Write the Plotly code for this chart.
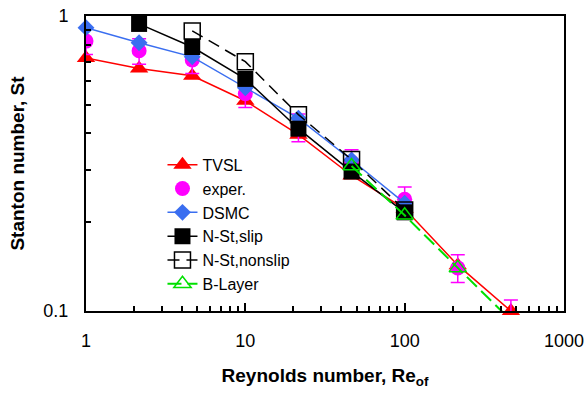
import plotly.graph_objects as go

# Reynolds numbers (x) for each series
re_all = [1, 2.154, 4.642, 10, 21.54, 46.42, 100, 215.4, 464.2]

tvsl_x = re_all
tvsl_y = [0.72, 0.664, 0.627, 0.516, 0.396, 0.288, 0.222, 0.143, 0.1]

exper_x = re_all
exper_y = [0.822, 0.762, 0.71, 0.545, 0.42, 0.32, 0.239, 0.14, 0.094]
exper_err = [0.082, 0.076, 0.071, 0.055, 0.045, 0.032, 0.024, 0.015, 0.015]

dsmc_x = [1, 2.154, 4.642, 10, 21.54, 46.42, 100]
dsmc_y = [0.913, 0.812, 0.727, 0.571, 0.45, 0.325, 0.232]

slip_x = [2.154, 4.642, 10, 21.54, 46.42, 100]
slip_y = [0.94, 0.785, 0.612, 0.415, 0.297, 0.216]

nonslip_x = [4.642, 10, 21.54, 46.42, 100]
nonslip_y = [0.89, 0.70, 0.463, 0.326, 0.22]

blayer_x = [46.42, 100, 215.4, 464.2]
blayer_y = [0.31, 0.211, 0.14, 0.093]

x_ticks = [1, 10, 100, 1000]
x_ticktext = ["1", "10", "100", "1000"]
x_minor = [2, 3, 4, 5, 6, 7, 8, 9, 20, 30, 40, 50, 60, 70, 80, 90,
           200, 300, 400, 500, 600, 700, 800, 900]
y_ticks = [0.1, 1]
y_ticktext = ["0.1", "1"]
y_minor = [0.2, 0.3, 0.4, 0.5, 0.6, 0.7, 0.8, 0.9]

FONT = "Liberation Sans, Arial, sans-serif"

fig = go.Figure()

fig.add_trace(go.Scatter(
    x=tvsl_x, y=tvsl_y, name="TVSL", mode="lines+markers", legendrank=1,
    line=dict(color="#FF0000", width=1.5),
    marker=dict(symbol="triangle-up", size=16, color="#FF0000"),
    cliponaxis=False))

fig.add_trace(go.Scatter(
    x=exper_x, y=exper_y, name="exper.", mode="markers", legendrank=2,
    marker=dict(symbol="circle", size=15, color="#FF00FF"),
    error_y=dict(type="data", array=exper_err, color="#FF00FF", thickness=1.5, width=7)))

fig.add_trace(go.Scatter(
    x=dsmc_x, y=dsmc_y, name="DSMC", mode="lines+markers", legendrank=3,
    line=dict(color="#3A6EF0", width=1.5),
    marker=dict(symbol="diamond", size=13, color="#3A6EF0"),
    cliponaxis=False))

fig.add_trace(go.Scatter(
    x=slip_x, y=slip_y, name="N-St,slip", mode="lines+markers", legendrank=4,
    line=dict(color="black", width=1.5),
    marker=dict(symbol="square", size=16, color="black"),
    cliponaxis=False))

fig.add_trace(go.Scatter(
    x=nonslip_x, y=nonslip_y, name="N-St,nonslip", mode="lines+markers", legendrank=5,
    line=dict(color="black", width=1.5, dash="12px,7px"),
    marker=dict(symbol="square-open", size=16, color="black", line=dict(width=1.5)),
    cliponaxis=False))

fig.add_trace(go.Scatter(
    x=blayer_x, y=blayer_y, name="B-Layer", mode="lines+markers", legendrank=6,
    line=dict(color="#00E000", width=2, dash="14px,6px"),
    marker=dict(symbol="triangle-up-open", size=15, color="#00E000", line=dict(width=1.5))))

axis_common = dict(
    type="log", showline=True, linecolor="black", linewidth=2, mirror=True,
    ticks="inside", ticklen=8, tickwidth=1.5, tickcolor="black",
    showgrid=False, zeroline=False,
    tickfont=dict(family=FONT, size=18, color="black"),
)

fig.update_xaxes(
    **axis_common, range=[0, 3], tickvals=x_ticks, ticktext=x_ticktext,
    minor=dict(tickvals=x_minor, ticks="inside", ticklen=5, tickwidth=1.5,
               tickcolor="black", showgrid=False),
    ticklabelstandoff=12,
    title=dict(text="<b>Reynolds number, Re<sub>of</sub></b>",
               font=dict(family=FONT, size=19, color="black"), standoff=19))

fig.update_yaxes(
    **axis_common, range=[-1, 0], tickvals=y_ticks, ticktext=y_ticktext,
    minor=dict(tickvals=y_minor, ticks="inside", ticklen=5, tickwidth=1.5,
               tickcolor="black", showgrid=False),
    ticklabelstandoff=12,
    title=dict(text="<b>Stanton number, St</b>",
               font=dict(family=FONT, size=19, color="black"), standoff=14))

fig.update_layout(
    width=587, height=394,
    margin=dict(l=86, r=23, t=16, b=83, autoexpand=False),
    paper_bgcolor="white", plot_bgcolor="white",
    font=dict(family=FONT, color="black"),
    showlegend=True,
    legend=dict(x=0.16, y=0.553, xanchor="left", yanchor="top",
                font=dict(family=FONT, size=16, color="black"),
                bgcolor="rgba(0,0,0,0)", tracegroupgap=0),
)

fig.write_html("out.html")
